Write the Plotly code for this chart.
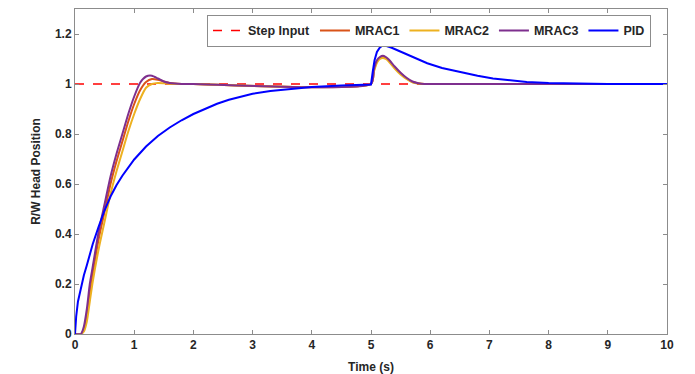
import plotly.graph_objects as go

# ---- data ----
step_t = [0, 10]
step_y = [1, 1]

mrac_t = [0, 0.1, 0.15, 0.2, 0.25, 0.3, 0.4, 0.5, 0.6, 0.7, 0.8, 0.9, 1.0, 1.1, 1.2, 1.3, 1.4, 1.5, 1.6, 1.8, 2.0,
          5.0, 5.05, 5.1, 5.15, 5.2, 5.25, 5.3, 5.4, 5.5, 5.6, 5.7, 5.8, 5.9, 6.0, 10.0]

mrac1_y = [0, 0, 0.02, 0.07, 0.16, 0.24, 0.38, 0.49, 0.60, 0.69, 0.77, 0.85, 0.92, 0.975, 1.008, 1.02, 1.017, 1.01, 1.004, 1.0, 1.0,
           1.0, 1.055, 1.09, 1.104, 1.108, 1.104, 1.094, 1.066, 1.042, 1.022, 1.008, 1.002, 1.0, 1.0, 1.0]
mrac2_y = [0, 0, 0.01, 0.05, 0.13, 0.21, 0.34, 0.45, 0.56, 0.65, 0.73, 0.81, 0.88, 0.94, 0.985, 1.0, 1.004, 1.003, 1.001, 1.0, 1.0,
           1.0, 1.05, 1.085, 1.1, 1.104, 1.1, 1.09, 1.062, 1.038, 1.02, 1.007, 1.002, 1.0, 1.0, 1.0]
mrac3_y = [0, 0, 0.03, 0.10, 0.20, 0.27, 0.41, 0.52, 0.63, 0.72, 0.80, 0.88, 0.95, 1.005, 1.03, 1.033, 1.022, 1.01, 1.004, 1.0, 1.0,
           1.0, 1.06, 1.095, 1.108, 1.113, 1.108, 1.098, 1.07, 1.045, 1.025, 1.01, 1.003, 1.0, 1.0, 1.0]

pid_t = [0, 0.02, 0.05, 0.1, 0.15, 0.2, 0.3, 0.4, 0.5, 0.6, 0.7, 0.8, 0.9, 1.0, 1.2, 1.4, 1.6, 1.8, 2.0,
         2.2, 2.4, 2.6, 2.8, 3.0, 3.3, 3.6, 4.0, 4.5, 5.0,
         5.03, 5.06, 5.1, 5.15, 5.2, 5.25, 5.35, 5.5, 5.7, 5.95, 6.2, 6.5, 6.8, 7.06, 7.35, 7.63, 8.0, 8.5, 9.0, 10.0]
pid_y = [0, 0.07, 0.13, 0.19, 0.235, 0.275, 0.36, 0.43, 0.495, 0.55, 0.595, 0.633, 0.667, 0.698, 0.75, 0.792, 0.826, 0.855, 0.88,
         0.902, 0.921, 0.937, 0.95, 0.961, 0.972, 0.98, 0.988, 0.994, 0.998,
         1.05, 1.095, 1.128, 1.146, 1.154, 1.153, 1.145, 1.13, 1.108, 1.083, 1.064, 1.047, 1.033, 1.022, 1.014, 1.008, 1.004, 1.001, 1.0, 1.0]

x_ticks = list(range(0, 11))
y_ticks = [0, 0.2, 0.4, 0.6, 0.8, 1, 1.2]
y_tick_labels = ["0", "0.2", "0.4", "0.6", "0.8", "1", "1.2"]

fig = go.Figure()
fig.add_trace(go.Scatter(x=step_t, y=step_y, mode="lines", name="Step Input",
                         line=dict(color="#FF0000", width=1.6, dash="dash")))
fig.add_trace(go.Scatter(x=mrac_t, y=mrac1_y, mode="lines", name="MRAC1",
                         line=dict(color="#D95319", width=2, shape="spline", smoothing=0.6)))
fig.add_trace(go.Scatter(x=mrac_t, y=mrac2_y, mode="lines", name="MRAC2",
                         line=dict(color="#EDB120", width=2, shape="spline", smoothing=0.6)))
fig.add_trace(go.Scatter(x=mrac_t, y=mrac3_y, mode="lines", name="MRAC3",
                         line=dict(color="#7E2F8E", width=2, shape="spline", smoothing=0.6)))
fig.add_trace(go.Scatter(x=pid_t, y=pid_y, mode="lines", name="PID",
                         line=dict(color="#0000FF", width=2)))

axis_common = dict(showline=True, linecolor="#8c8c8c", linewidth=1, mirror="ticks",
                   ticks="inside", ticklen=4, tickcolor="#8c8c8c", showgrid=False, zeroline=False,
                   automargin=False,
                   tickfont=dict(family="Liberation Sans", size=12, color="#262626", weight="bold"))

fig.update_xaxes(range=[0, 10], tickvals=x_ticks,
                 title=dict(text="Time (s)", standoff=12,
                            font=dict(family="Liberation Sans", size=12, color="#262626", weight="bold")),
                 **axis_common)
fig.update_yaxes(range=[0, 1.3], tickvals=y_ticks, ticktext=y_tick_labels,
                 title=dict(text="R/W Head Position", standoff=11,
                            font=dict(family="Liberation Sans", size=12, color="#262626", weight="bold")),
                 **axis_common)

fig.update_layout(
    width=687, height=366,
    margin=dict(l=67, r=28, t=1, b=40),
    paper_bgcolor="white", plot_bgcolor="white",
    showlegend=True,
    legend=dict(orientation="h", x=0.223, y=0.982, xanchor="left", yanchor="top",
                bgcolor="white", bordercolor="#8c8c8c", borderwidth=1,
                font=dict(family="Liberation Sans", size=12.5, color="#262626", weight="bold"),
                tracegroupgap=0, itemwidth=30),
)

fig.write_html("out.html")
